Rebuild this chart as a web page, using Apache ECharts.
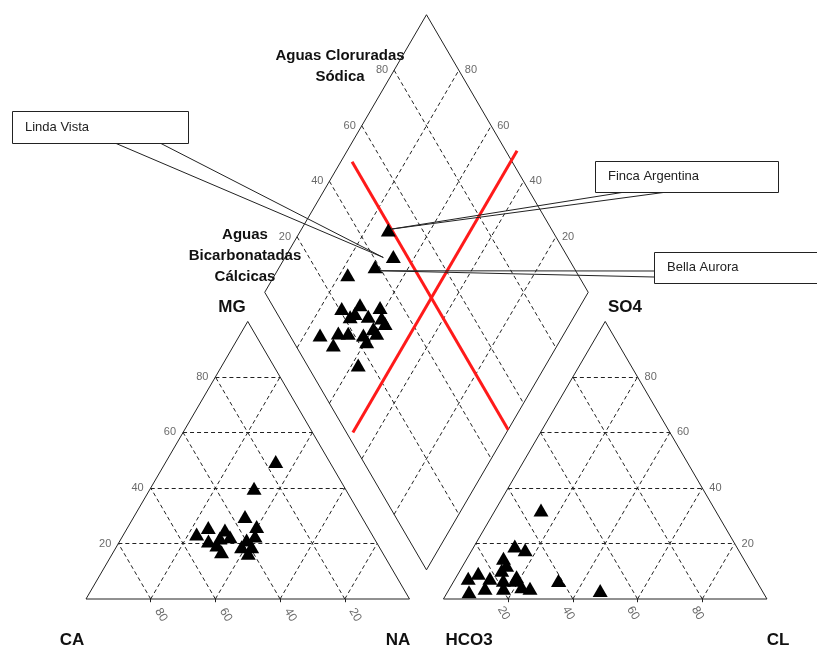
<!DOCTYPE html>
<html>
<head>
<meta charset="utf-8">
<script src="https://cdn.jsdelivr.net/npm/echarts@6/dist/echarts.min.js"></script>
<style>
  html, body { margin: 0; padding: 0; background: #fff; }
  #box { width: 817px; height: 649px; }
</style>
</head>
<body>
<div id="box"></div>
<script>
var ticks = [20, 40, 60, 80];

// cationes: Mg %, Na %
var catMg = [49.5, 39.9, 29.7, 26.1, 25.8, 23.4, 24.9, 20.9, 22.0, 22.4, 17.0, 21.3, 18.8, 16.5, 18.8, 19.5, 22.7];
var catNa = [33.9, 32.0, 34.3, 39.7, 24.9, 22.5, 30.5, 27.4, 30.4, 33.3, 33.4, 39.0, 41.8, 41.9, 38.7, 30.7, 40.9];

// aniones: SO4 %, Cl %
var anSO4 = [32.1, 19.1, 17.7, 14.7, 12.2, 10.4, 9.3, 7.5, 7.5, 6.8, 6.8, 4.4, 3.9, 3.9, 3.9, 2.6, 6.7, 3.1, 8.0];
var anCl  = [14.1, 12.5, 16.4, 11.2, 13.4, 12.8, 6.1, 3.9, 10.6, 15.1, 18.7, 22.0, 24.8, 16.6, 10.9, 6.6, 32.2, 46.9, 18.6];

// rombo: Na %, Cl+SO4 %
var rhNa    = [27.0, 33.3, 29.5, 22.5, 26.7, 31.7, 38.4, 31.7, 30.8, 40.8, 24.8, 30.1, 33.2, 38.2, 40.1, 42.8, 40.4, 30.7, 42.0, 42.0, 36.3];
var rhClSO4 = [49.4, 46.2, 38.7, 28.8, 20.9, 27.2, 32.9, 24.1, 22.0, 31.5, 9.4, 15.4, 18.4, 22.8, 27.1, 31.6, 22.6, 11.7, 15.8, 27.2, 27.7];

// lineas rojas en el rombo [Na, Cl+SO4]
var redLine1 = [[3.5, 50.5], [100, 50.5]];
var redLine2 = [[52.5, 2], [52.5, 103.5]];

// etiquetas de muestras (indice en el rombo)
var calloutNames = ["Finca Argentina", "Linda Vista", "Bella Aurora"];
var calloutIndex = [0, 1, 2];

var myChart = echarts.init(document.getElementById("box"));

var G = 10.5;              // separacion entre triangulos
var H = Math.sqrt(3) / 2;
var SX = 3.235, SY = 3.205; // px por unidad
var FONT = "Liberation Sans, Arial, sans-serif";

function cat(mg, na) { return [na + mg / 2, H * mg]; }
function an(so4, cl) { return [100 + G + cl + so4 / 2, H * so4]; }
function rh(na, a) { return [(na + 100 + G + a) / 2, H * (100 + G + a - na)]; }

// rejilla punteada
var gridLines = [];
ticks.forEach(function (k) {
  gridLines.push({ coords: [cat(k, 0), cat(k, 100 - k)] });
  gridLines.push({ coords: [cat(0, k), cat(100 - k, k)] });
  gridLines.push({ coords: [cat(0, 100 - k), cat(100 - k, 0)] });
  gridLines.push({ coords: [an(k, 0), an(k, 100 - k)] });
  gridLines.push({ coords: [an(0, k), an(100 - k, k)] });
  gridLines.push({ coords: [an(0, 100 - k), an(100 - k, 0)] });
  gridLines.push({ coords: [rh(k, 0), rh(k, 100)] });
  gridLines.push({ coords: [rh(0, k), rh(100, k)] });
});

var outlines = [
  { coords: [cat(0, 0), cat(100, 0), cat(0, 100), cat(0, 0)] },
  { coords: [an(0, 0), an(100, 0), an(0, 100), an(0, 0)] },
  { coords: [rh(0, 0), rh(0, 100), rh(100, 100), rh(100, 0), rh(0, 0)] }
];

// marcas pequeñas en la base
var baseTicks = [];
ticks.forEach(function (k) {
  var p = cat(0, k), q = an(0, k);
  baseTicks.push({ coords: [p, [p[0], p[1] - 1]] });
  baseTicks.push({ coords: [q, [q[0], q[1] - 1]] });
});

var redLines = [
  { coords: redLine1.map(function (d) { return rh(d[0], d[1]); }) },
  { coords: redLine2.map(function (d) { return rh(d[0], d[1]); }) }
];

var cationPts = catMg.map(function (m, i) { return cat(m, catNa[i]); });
var anionPts = anSO4.map(function (s, i) { return an(s, anCl[i]); });
var rhombPts = rhNa.map(function (n, i) { return rh(n, rhClSO4[i]); });

function tickSeries(data, label) {
  return {
    type: "scatter",
    data: data,
    symbolSize: 0,
    silent: true,
    label: Object.assign({
      show: true,
      formatter: function (p) { return p.value[2]; },
      color: "#444",
      fontSize: 11,
      fontFamily: FONT
    }, label)
  };
}

var labLeft = ticks.map(function (k) { return cat(k, 0).concat(String(k)); });
var labLeftBase = ticks.map(function (k) { return cat(0, k).concat(String(100 - k)); });
var labRight = ticks.map(function (k) { return an(k, 100 - k).concat(String(k)); });
var labRightBase = ticks.map(function (k) { return an(0, k).concat(String(k)); });
var labRhL = ticks.map(function (k) { return rh(0, k).concat(String(k)); });
var labRhR = ticks.map(function (k) { return rh(k, 100).concat(String(100 - k)); });

var triangle = {
  type: "scatter", symbol: "triangle", symbolSize: [15, 13],
  itemStyle: { color: "#000", opacity: 1 }, z: 5
};

myChart.setOption({
  animation: false,
  backgroundColor: "#fff",
  grid: { left: 0, right: 0, top: 0, bottom: 0 },
  xAxis: { type: "value", min: -86 / SX, max: (817 - 86) / SX, show: false },
  yAxis: { type: "value", min: -50 / SY, max: 599 / SY, show: false },
  series: [
    {
      type: "lines", coordinateSystem: "cartesian2d", silent: true,
      lineStyle: { color: "#222", width: 1, type: [4, 3], opacity: 1 },
      data: gridLines, z: 1
    },
    {
      type: "lines", coordinateSystem: "cartesian2d", polyline: true, silent: true,
      lineStyle: { color: "#222", width: 1, opacity: 1 },
      data: outlines, z: 2
    },
    {
      type: "lines", coordinateSystem: "cartesian2d", silent: true,
      lineStyle: { color: "#222", width: 1, opacity: 1 },
      data: baseTicks, z: 2
    },
    {
      type: "lines", coordinateSystem: "cartesian2d", silent: true,
      lineStyle: { color: "#ff1a1a", width: 3, opacity: 1 },
      data: redLines, z: 3
    },
    Object.assign({ data: cationPts }, triangle),
    Object.assign({ data: anionPts }, triangle),
    Object.assign({ data: rhombPts }, triangle),
    tickSeries(labLeft, { position: "left", distance: 7 }),
    tickSeries(labLeftBase, { position: "inside", offset: [19, -1], rotate: -60, fontSize: 12 }),
    tickSeries(labRight, { position: "right", distance: 7 }),
    tickSeries(labRightBase, { position: "inside", offset: [10, 11], rotate: -60, fontSize: 12 }),
    tickSeries(labRhL, { position: "left", distance: 6 }),
    tickSeries(labRhR, { position: "right", distance: 6 })
  ]
});

// textos y recuadros
var bold = function (txt, x, y, size) {
  return {
    type: "text", x: x, y: y, z: 20,
    style: { text: txt, fill: "#111", font: "bold " + size + "px " + FONT, align: "center", verticalAlign: "middle", lineHeight: 21 }
  };
};

var graphics = [
  bold("Aguas Cloruradas\nSódica", 340, 66, 15),
  bold("Aguas\nBicarbonatadas\nCálcicas", 245, 256, 15),
  bold("MG", 232, 307, 17),
  bold("SO4", 625, 307, 17),
  bold("CA", 72, 640, 17),
  bold("NA", 398, 640, 17),
  bold("HCO3", 469, 640, 17),
  bold("CL", 778, 640, 17)
];

// recuadro, base del puntero y desplazamiento de la punta
var boxes = [
  { rect: [595, 161, 183, 31], base: [[625, 192], [667, 192]], tip: [3, -1] },
  { rect: [12, 111, 176, 32], base: [[115, 143], [160, 143]], tip: [-10, 1] },
  { rect: [654, 252, 175, 31], base: [[654, 271], [654, 277]], tip: [5, 4] }
];

calloutNames.forEach(function (name, i) {
  var b = boxes[i];
  var idx = calloutIndex[i];
  var p = myChart.convertToPixel({ gridIndex: 0 }, rhombPts[idx]);
  var tip = [p[0] + b.tip[0], p[1] + b.tip[1]];
  graphics.push({
    type: "polyline", z: 30, silent: true,
    shape: { points: [b.base[0], tip, b.base[1]] },
    style: { stroke: "#222", lineWidth: 1, fill: null }
  });
  graphics.push({
    type: "rect", z: 31, silent: true,
    shape: { x: b.rect[0] + 0.5, y: b.rect[1] + 0.5, width: b.rect[2], height: b.rect[3] },
    style: { fill: "#fff", stroke: "#222", lineWidth: 1 }
  });
  graphics.push({
    type: "text", z: 32, silent: true,
    x: b.rect[0] + 13, y: b.rect[1] + b.rect[3] / 2,
    style: { text: name, fill: "#222", font: "13px " + FONT, verticalAlign: "middle" }
  });
});

myChart.setOption({ graphic: graphics });
</script>
</body>
</html>
